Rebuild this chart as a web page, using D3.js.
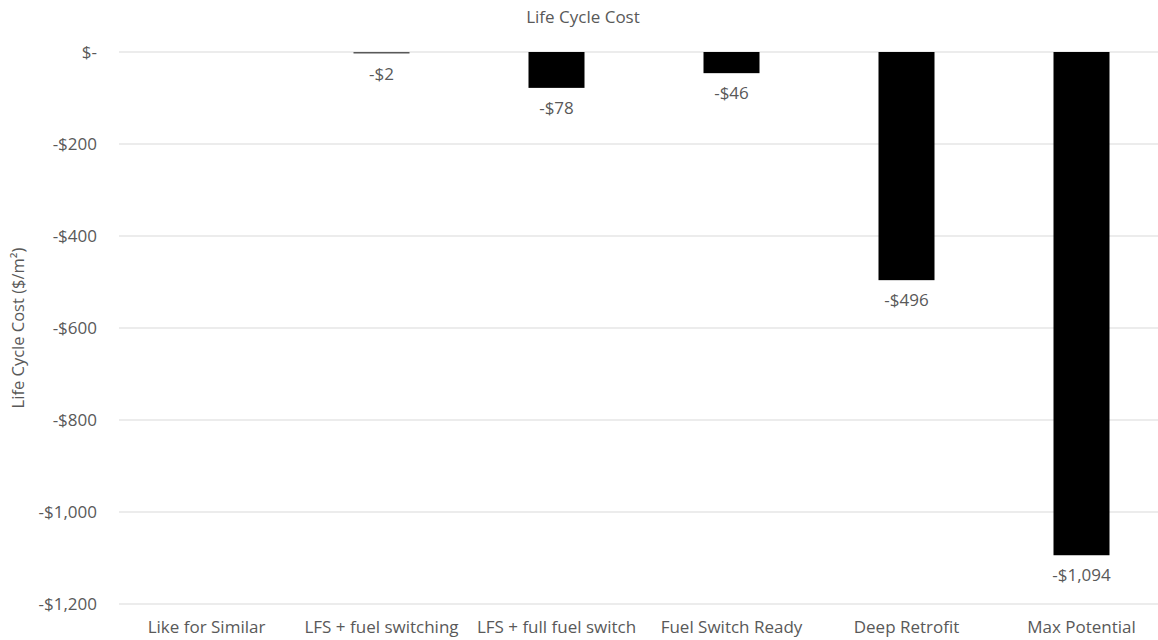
<!DOCTYPE html>
<html>
<head>
<meta charset="utf-8">
<script src="https://cdn.jsdelivr.net/npm/d3@7"></script>
<style>
  html, body { margin: 0; padding: 0; background: #fff; }
  svg { display: block; }
  text { font-family: "Open Sans", "Noto Sans", sans-serif; fill: #595959; }
</style>
</head>
<body>
<svg id="chart" width="1158" height="640"></svg>
<script>
// Life cycle cost per scenario ($/m²)
const categories = ["Like for Similar", "LFS + fuel switching", "LFS + full fuel switch", "Fuel Switch Ready", "Deep Retrofit", "Max Potential"];
const costValues = [0, -2, -78, -46, -496, -1094];
const yTicks = [0, -200, -400, -600, -800, -1000, -1200];

const chartTitle = "Life Cycle Cost";
const yAxisTitle = "Life Cycle Cost ($/m²)";

const svg = d3.select("#chart");
const margin = { top: 52, left: 119, right: -11, bottom: 36 };
const width = 1158, height = 640;

const x = d3.scaleBand()
  .domain(categories)
  .range([margin.left, width - margin.right])
  .paddingInner(0.68)
  .paddingOuter(0.34);

const y = d3.scaleLinear()
  .domain([0, -1200])
  .range([margin.top, height - margin.bottom]);

const money = v => v === 0 ? "$-" : (v < 0 ? "-$" : "$") + d3.format(",")(Math.abs(v));

// Horizontal gridlines
svg.append("g")
  .selectAll("line")
  .data(yTicks)
  .join("line")
  .attr("x1", margin.left)
  .attr("x2", width)
  .attr("y1", d => y(d))
  .attr("y2", d => y(d))
  .attr("stroke", "#d9d9d9")
  .attr("stroke-width", 1);

// Y tick labels
const yAxis = d3.axisLeft(y).tickValues(yTicks).tickFormat(money).tickSize(0).tickPadding(22);
const gy = svg.append("g").attr("transform", `translate(${margin.left},0)`).call(yAxis);
gy.select(".domain").remove();
gy.selectAll("text").style("font-size", "17px").attr("fill", "#595959");

// Bars
svg.append("g")
  .selectAll("rect")
  .data(categories.map((c, i) => ({ c, v: costValues[i] })).filter(d => d.v !== 0))
  .join("rect")
  .attr("x", d => x(d.c))
  .attr("width", x.bandwidth())
  .attr("y", d => y(0))
  .attr("height", d => Math.max(1.5, y(d.v) - y(0)))
  .attr("fill", d => Math.abs(d.v) < 5 ? "#595959" : "#000");

// Value labels below bars
svg.append("g")
  .selectAll("text")
  .data(categories.map((c, i) => ({ c, v: costValues[i] })).filter(d => d.v !== 0))
  .join("text")
  .attr("x", d => x(d.c) + x.bandwidth() / 2)
  .attr("y", d => Math.max(y(d.v), y(0) + 2) + 26)
  .attr("text-anchor", "middle")
  .style("font-size", "17px")
  .attr("fill", "#404040")
  .text(d => money(d.v));

// Category labels
const xAxis = d3.axisBottom(x).tickSize(0).tickPadding(17);
const gx = svg.append("g").attr("transform", `translate(0,${y(-1200)})`).call(xAxis);
gx.select(".domain").remove();
gx.selectAll("text").style("font-size", "17px").attr("fill", "#595959");

// Title
svg.append("text")
  .attr("x", 583)
  .attr("y", 23)
  .attr("text-anchor", "middle")
  .style("font-size", "17px")
  .text(chartTitle);

// Y axis title
svg.append("text")
  .attr("transform", `translate(24,${(y(0) + y(-1200)) / 2}) rotate(-90)`)
  .attr("text-anchor", "middle")
  .style("font-size", "16.5px")
  .text(yAxisTitle);
</script>
</body>
</html>
